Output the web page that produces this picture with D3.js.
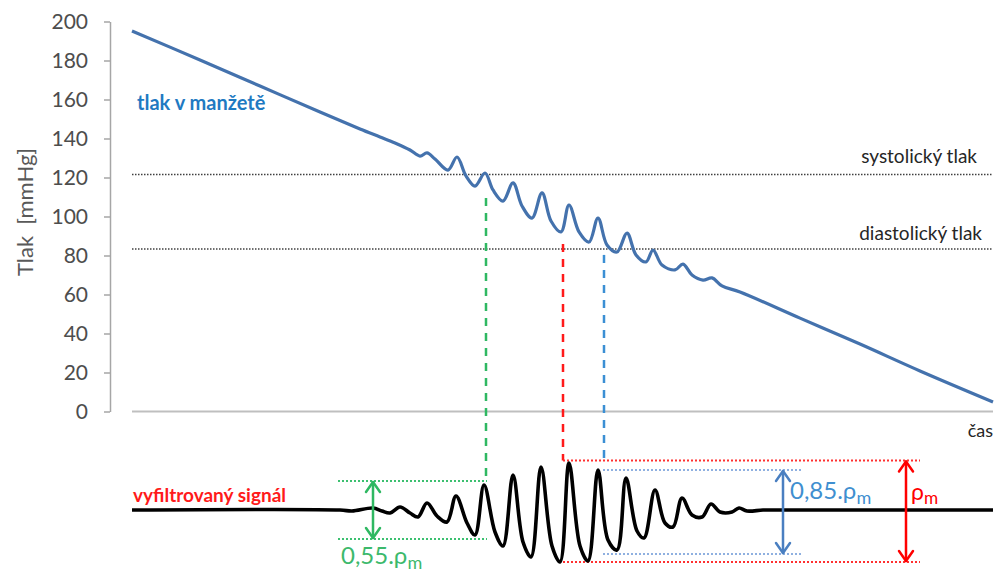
<!DOCTYPE html>
<html>
<head>
<meta charset="utf-8">
<script src="https://cdn.jsdelivr.net/npm/d3@7/dist/d3.min.js"></script>
<style>
  html, body { margin: 0; padding: 0; background: #fff; }
  svg { display: block; }
  text { font-family: Lato, "Open Sans", "DejaVu Sans", sans-serif; }
</style>
</head>
<body>
<svg id="chart" width="1002" height="575"></svg>
<script>
// ---- Data ----
// cuff pressure curve: time [s], pressure [mmHg]
const pressureTime = [0, 3.4, 6.4, 9.4, 11.4, 12.4, 13.15, 13.9, 14.4, 14.75, 15.15, 15.8, 16.25, 16.7, 17.15, 17.65, 18.05, 18.55, 19.05, 19.5, 20.0, 20.5, 20.95, 21.45, 21.85, 22.35, 22.85, 23.3, 23.75, 24.25, 24.75, 25.2, 25.7, 26.05, 26.5, 27.15, 27.55, 28.0, 28.55, 29.0, 29.5, 30.4, 33.4, 36.4, 39.4, 43.05];
const pressureValue = [195.1, 180.3, 166.9, 153.6, 144.9, 140.8, 137.7, 134.1, 131.0, 132.6, 129.5, 123.8, 130.5, 120.8, 115.6, 122.3, 113.6, 107.9, 117.2, 105.4, 99.2, 112.1, 97.7, 92.1, 105.9, 92.1, 86.9, 99.2, 85.4, 81.8, 91.5, 80.3, 76.7, 82.8, 75.1, 72.6, 75.6, 70.0, 67.4, 68.5, 64.4, 61.3, 47.9, 34.6, 20.8, 4.9];

// filtered oscillometric signal: time [s], amplitude [a.u.]
const signalTime = [0, 10.4, 11.0, 12.05, 12.5, 12.9, 13.4, 13.9, 14.3, 14.75, 15.25, 15.75, 16.2, 16.75, 17.15, 17.6, 18.15, 18.55, 19.05, 19.55, 19.95, 20.45, 21.0, 21.4, 21.85, 22.4, 22.8, 23.3, 23.8, 24.25, 24.7, 25.25, 25.6, 26.15, 26.65, 27.05, 27.5, 28.0, 28.5, 28.95, 29.4, 30.0, 30.35, 30.75, 31.55, 32.4, 43.05];
const signalValue = [0, 0, -1, 2, -1, -3, 3, -3, -7, 7, -6, -12, 14, -13, -25, 25, -22, -36, 35, -32, -47, 43, -36, -52, 47, -36, -51, 40, -30, -40, 32, -21, -28, 20, -13, -17, 12, -5, -7, 6, -2, -2, 2, -1, 0, 0, 0];

const yTicks = [0, 20, 40, 60, 80, 100, 120, 140, 160, 180, 200];
const systolicP = 121.6, diastolicP = 83.3;

// vertical dashed markers: time, top pressure, bottom signal level
const markerTime = [17.7, 21.55, 23.6];
const markerTopP = [109.5, 85.9, 80.3];
const markerBottomS = [29, 49.5, 49.5];
const markerColor = ["#2fb862", "#ff1a1a", "#3b8fd4"];

// amplitude levels: 0.55 pm, pm, 0.85 pm
const levelNames = ["0,55.", "", "0,85."];
const levelTop = [29, 49.5, 40];
const levelBottom = [-29, -52, -44];
const levelStart = [10.3, 21.55, 23.55];
const levelEnd = [17.75, 39.4, 33.5];
const levelArrowT = [12.05, 38.7, 32.55];
const levelLineColor = ["#3cc070", "#ff3030", "#8fb0e0"];
const levelArrowColor = ["#2fb862", "#ff0000", "#4a7fc1"];
const levelTextColor = ["#3cb96c", "#ff0000", "#3f8fd0"];

// ---- Scales ----
const svg = d3.select("#chart");
const x = d3.scaleLinear().domain([0, 43.05]).range([132, 993]);
const yP = d3.scaleLinear().domain([0, 200]).range([411.5, 21.5]);
const yS = d3.scaleLinear().domain([-60, 60]).range([570, 450]);

// ---- Axes ----
const yAxis = d3.axisLeft(yP).tickValues(yTicks).tickSize(6).tickSizeOuter(0).tickPadding(16);
const gy = svg.append("g").attr("transform", "translate(110,0)").call(yAxis);
gy.select(".domain").attr("stroke", "#a6a6a6").attr("stroke-width", 1.5);
gy.selectAll(".tick line").attr("stroke", "#a6a6a6").attr("stroke-width", 1.5);
gy.selectAll(".tick text").attr("fill", "#4d4d4d").style("font-size", "21px").style("font-family", "Lato, 'Open Sans', sans-serif");

svg.append("line")
  .attr("x1", x(0)).attr("x2", x(43.05))
  .attr("y1", yP(0)).attr("y2", yP(0))
  .attr("stroke", "#bfbfbf").attr("stroke-width", 2);

svg.append("text")
  .attr("transform", "translate(33,212) rotate(-90)")
  .attr("text-anchor", "middle")
  .attr("fill", "#595959")
  .style("font-size", "22px")
  .attr("xml:space", "preserve")
  .text("Tlak  [mmHg]");

svg.append("text").attr("x", 993).attr("y", 437).attr("text-anchor", "end")
  .attr("fill", "#262626").style("font-size", "18px").text("čas");

// ---- Systolic / diastolic reference lines ----
[[systolicP, "systolický tlak", 977, 163], [diastolicP, "diastolický tlak", 982, 240]].forEach(d => {
  svg.append("line")
    .attr("x1", x(0)).attr("x2", x(43.05))
    .attr("y1", yP(d[0])).attr("y2", yP(d[0]))
    .attr("stroke", "#404040").attr("stroke-width", 1.5)
    .attr("stroke-dasharray", "1.5,1.5");
  svg.append("text").attr("x", d[2]).attr("y", d[3]).attr("text-anchor", "end")
    .attr("fill", "#262626").style("font-size", "19px").text(d[1]);
});

// ---- Vertical dashed markers ----
markerTime.forEach((t, i) => {
  svg.append("line")
    .attr("x1", x(t)).attr("x2", x(t))
    .attr("y1", yP(markerTopP[i])).attr("y2", yS(markerBottomS[i]))
    .attr("stroke", markerColor[i]).attr("stroke-width", 2.5)
    .attr("stroke-dasharray", "8,7");
});

// ---- Pressure line ----
const pData = pressureTime.map((t, i) => [t, pressureValue[i]]);
svg.append("path")
  .datum(pData)
  .attr("fill", "none")
  .attr("stroke", "#4472ad")
  .attr("stroke-width", 3.2)
  .attr("stroke-linejoin", "round")
  .attr("d", d3.line().x(d => x(d[0])).y(d => yP(d[1])).curve(d3.curveCatmullRom.alpha(0.5)));

svg.append("text").attr("x", 137).attr("y", 110)
  .attr("fill", "#1f7ac2").style("font-size", "20px").style("font-weight", "bold")
  .text("tlak v manžetě");

// ---- Amplitude level lines and arrows ----
levelTop.forEach((top, i) => {
  [top, levelBottom[i]].forEach(v => {
    svg.append("line")
      .attr("x1", x(levelStart[i])).attr("x2", x(levelEnd[i]))
      .attr("y1", yS(v)).attr("y2", yS(v))
      .attr("stroke", levelLineColor[i]).attr("stroke-width", 2)
      .attr("stroke-dasharray", "2,2");
  });
});

// ---- Signal line ----
const sData = signalTime.map((t, i) => [t, signalValue[i]]);
svg.append("path")
  .datum(sData)
  .attr("fill", "none")
  .attr("stroke", "#000")
  .attr("stroke-width", 3.6)
  .attr("stroke-linejoin", "round")
  .attr("d", d3.line().x(d => x(d[0])).y(d => yS(d[1])).curve(d3.curveCatmullRom.alpha(0.5)));

levelTop.forEach((top, i) => {
  const ax = x(levelArrowT[i]);
  const y1 = yS(top), y2 = yS(levelBottom[i]);
  const g = svg.append("g").attr("stroke", levelArrowColor[i]).attr("stroke-width", 2.5)
    .attr("fill", "none").attr("stroke-linecap", "round").attr("stroke-linejoin", "round");
  g.append("line").attr("x1", ax).attr("x2", ax).attr("y1", y1 + 1).attr("y2", y2 - 1);
  g.append("path").attr("d", `M${ax - 7},${y1 + 11} L${ax},${y1 + 1} L${ax + 7},${y1 + 11}`);
  g.append("path").attr("d", `M${ax - 7},${y2 - 11} L${ax},${y2 - 1} L${ax + 7},${y2 - 11}`);
});

// labels
const lab = [[341, 564, 24], [911, 500, 23], [790, 499, 24]];
levelNames.forEach((name, i) => {
  const t = svg.append("text").attr("x", lab[i][0]).attr("y", lab[i][1])
    .attr("fill", levelTextColor[i]).style("font-size", lab[i][2] + "px");
  t.append("tspan").text(name + "ρ");
  t.append("tspan").attr("dy", "0.25em").style("font-size", "0.75em").text("m");
});

svg.append("text").attr("x", 133).attr("y", 502)
  .attr("fill", "#ff1a1a").style("font-size", "19px").style("font-weight", "bold")
  .text("vyfiltrovaný signál");
</script>
</body>
</html>
